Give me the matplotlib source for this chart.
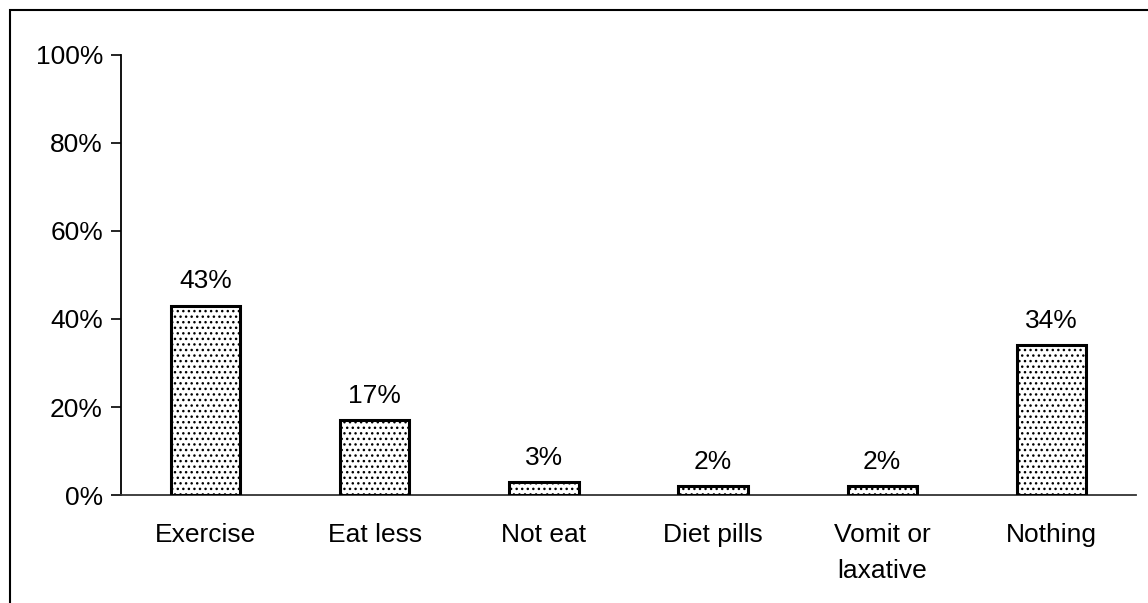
import matplotlib.pyplot as plt
from matplotlib.patches import Rectangle
import numpy as np

categories = ["Exercise", "Eat less", "Not eat", "Diet pills", "Vomit or\nlaxative", "Nothing"]
values = [43, 17, 3, 2, 2, 34]
yticks = [0, 20, 40, 60, 80, 100]

plt.rcParams['font.family'] = ['Liberation Sans', 'DejaVu Sans']
plt.rcParams['hatch.color'] = '#8a8a8a'
plt.rcParams['hatch.linewidth'] = 1.0

fig = plt.figure(figsize=(11.48, 6.03), dpi=100)
ax = fig.add_axes([0.1054, 0.179, 0.8841, 0.730])

x = np.arange(len(categories))
bars = ax.bar(x, values, width=0.41, color='white', edgecolor='black',
              linewidth=2.2, hatch='...', zorder=3)
for b, v in zip(bars, values):
    ax.text(b.get_x() + b.get_width() / 2, v + 2.8, f"{v}%",
            ha='center', va='bottom', fontsize=19)

ax.set_xlim(-0.5, len(categories) - 0.5)
ax.set_ylim(0, 100)
ax.set_yticks(yticks)
ax.set_yticklabels([f"{t}%" for t in yticks], fontsize=19)
ax.set_xticks(x)
ax.set_xticklabels(categories, fontsize=19, linespacing=1.65, va='top')
ax.tick_params(axis='x', length=0, pad=20)
ax.tick_params(axis='y', length=7, width=1.2, direction='out', pad=6)

for s in ['top', 'right']:
    ax.spines[s].set_visible(False)
ax.spines['left'].set_linewidth(1.3)
ax.spines['bottom'].set_linewidth(1.3)
ax.spines['bottom'].set_color('#333333')

# outer frame of the figure
fig.patches.append(Rectangle((10 / 1148, -0.05), 1.2, 0.05 + (603 - 10) / 603,
                             transform=fig.transFigure, fill=False,
                             edgecolor='black', linewidth=1.5))

fig.savefig("out.png", dpi=100)
